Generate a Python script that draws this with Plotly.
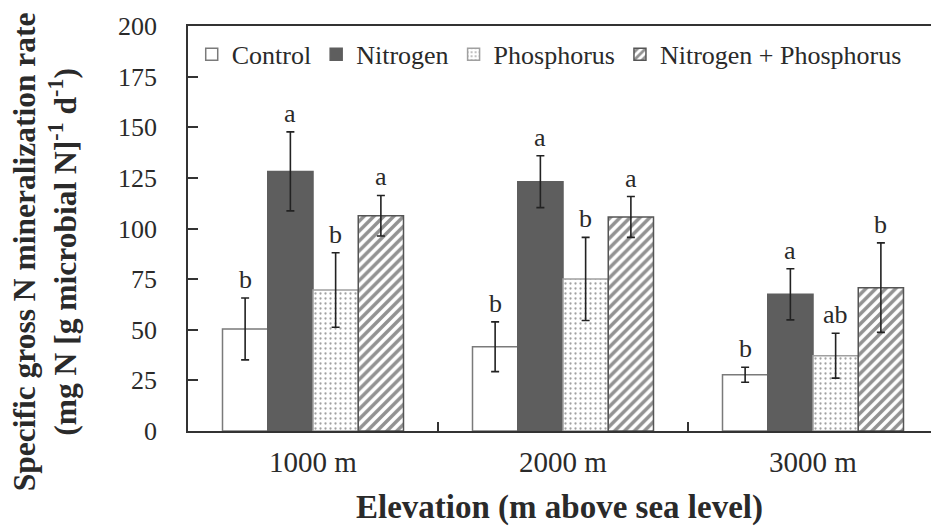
import plotly.graph_objects as go

categories = ["1000 m", "2000 m", "3000 m"]
series_names = ["Control", "Nitrogen", "Phosphorus", "Nitrogen + Phosphorus"]
control = [50.4, 41.6, 27.8]
control_err = [15.3, 12.3, 3.7]
nitrogen = [128.2, 123.1, 67.5]
nitrogen_err = [19.5, 12.8, 12.6]
phosphorus = [69.6, 75.1, 37.2]
phosphorus_err = [18.4, 20.5, 11.1]
nitro_phos = [106.3, 105.7, 70.8]
nitro_phos_err = [10.0, 10.1, 22.1]
letters_control = ["b", "b", "b"]
letters_nitrogen = ["a", "a", "a"]
letters_phosphorus = ["b", "b", "ab"]
letters_np = ["a", "a", "b"]
y_title = "<b>Specific gross N mineralization rate<br>(mg N [g microbial N]<sup>-1</sup> d<sup>-1</sup>)</b>"
x_title = "<b>Elevation (m above sea level)</b>"

values = [control, nitrogen, phosphorus, nitro_phos]
errors = [control_err, nitrogen_err, phosphorus_err, nitro_phos_err]
letters = [letters_control, letters_nitrogen, letters_phosphorus, letters_np]

FONT = "Liberation Serif"
TXT = "#2a2a2a"
OUTLINE = "#7a7a7a"

styles = [
    dict(color="white", line=dict(color=OUTLINE, width=1.5)),
    dict(color="#5e5e5e", line=dict(color="#5e5e5e", width=1.5)),
    dict(color="white", line=dict(color="#a0a0a0", width=1.5),
         pattern=dict(shape=".", fgcolor="#444444", bgcolor="white", size=5, solidity=0.16)),
    dict(color="white", line=dict(color="#555555", width=1.5),
         pattern=dict(shape="/", fgcolor="#262626", bgcolor="white", size=7, solidity=0.5)),
]

fig = go.Figure()
for name, vals, errs, st in zip(series_names, values, errors, styles):
    fig.add_trace(go.Bar(
        x=categories, y=vals, name=name, marker=st,
        error_y=dict(type="data", array=errs, visible=True, color="#222222", thickness=1.6, width=4),
    ))

bargap = 0.276
n = len(series_names)
bw = (1 - bargap) / n
for k in range(n):
    off = -(1 - bargap) / 2 + bw * (k + 0.5)
    for i in range(len(categories)):
        fig.add_annotation(
            x=i + off, y=values[k][i] + errors[k][i], xref="x", yref="y",
            text=letters[k][i], showarrow=False, yanchor="bottom", yshift=2,
            font=dict(family=FONT, size=26, color=TXT),
        )

fig.add_annotation(
    text=y_title, textangle=-90, showarrow=False,
    xref="paper", yref="paper", x=-0.192, y=0.442, xanchor="center", yanchor="middle",
    font=dict(family=FONT, size=31.5, color=TXT),
)

fig.update_layout(
    width=931, height=526,
    margin=dict(l=188, r=0, t=26, b=95),
    plot_bgcolor="white", paper_bgcolor="white",
    barmode="group", bargap=bargap, bargroupgap=0,
    font=dict(family=FONT, color=TXT),
    showlegend=True,
    legend=dict(
        orientation="h", x=0.005, xanchor="left", y=0.93, yanchor="middle",
        font=dict(family=FONT, size=26, color=TXT),
        bgcolor="rgba(0,0,0,0)", itemwidth=30, traceorder="normal",
    ),
    xaxis=dict(
        type="category", range=[-0.5, 2.472],
        showline=True, linecolor="#333333", linewidth=1.5, mirror=True,
        ticks="inside", ticklen=9, tickcolor="#333333", tickwidth=1.5,
        tickson="boundaries", ticklabelstandoff=4,
        tickfont=dict(family=FONT, size=29, color=TXT),
        showgrid=False,
        title=dict(text=x_title, font=dict(family=FONT, size=33, color=TXT), standoff=20),
    ),
    yaxis=dict(
        range=[0, 200], dtick=25, tick0=0,
        showline=True, linecolor="#333333", linewidth=1.5,
        ticks="inside", ticklen=10, tickcolor="#333333", tickwidth=1.5,
        tickfont=dict(family=FONT, size=26, color=TXT),
        ticklabelstandoff=24,
        showgrid=False, zeroline=False,
    ),
)

fig.write_html("out.html")
